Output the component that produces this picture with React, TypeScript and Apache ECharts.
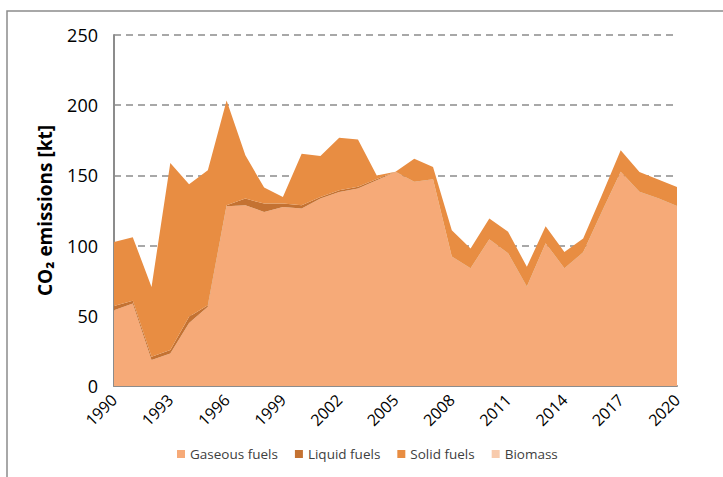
import React, { useEffect, useRef } from "react";
import * as echarts from "echarts";

const years = [
  "1990","1991","1992","1993","1994","1995","1996","1997","1998","1999",
  "2000","2001","2002","2003","2004","2005","2006","2007","2008","2009",
  "2010","2011","2012","2013","2014","2015","2016","2017","2018","2019","2020",
];
const gaseous = [
  54, 58.8, 18.5, 23.2, 44.8, 56.4, 128, 128.7, 124, 127.5,
  126.4, 133.5, 138.2, 140.6, 146.5, 152.4, 145.3, 147, 92, 83.7,
  104.3, 94.4, 70.6, 101.5, 83.7, 95, 124, 152.4, 138.2, 133.5, 128,
];
const liquid = [
  3, 1.9, 2.4, 2.4, 4.5, 1.2, 0.7, 4.8, 5.9, 2.4,
  2.3, 1.1, 1.2, 1.4, 1, 0.2, 0.2, 0.2, 0.2, 0.2,
  0.2, 0.2, 0.2, 0.2, 0.2, 0.2, 0.2, 0.2, 0.2, 0.2, 0.2,
];
const solid = [
  45.6, 45.3, 49.7, 133.2, 94.4, 96, 74.7, 30.8, 11.4, 4.7,
  36.8, 29.2, 37.5, 33.5, 2.5, 0, 16.4, 8.8, 18.8, 14.1,
  14.8, 15.2, 14.1, 12.1, 11.6, 9.8, 11.8, 15.3, 14.1, 13.3, 13.6,
];
const biomass = [
  0, 0, 0, 0, 0, 0, 0, 0, 0, 0,
  0, 0, 0, 0, 0, 0, 0, 0, 0, 0,
  0, 0, 0, 0, 0, 0, 0, 0, 0, 0, 0,
];
const seriesNames = ["Gaseous fuels", "Liquid fuels", "Solid fuels", "Biomass"];
const seriesColors = ["#F6AA78", "#C47232", "#E88D42", "#F8CBAD"];

const FONT = "'Open Sans', 'Noto Sans', sans-serif";

export default function App() {
  const ref = useRef<HTMLDivElement>(null);
  useEffect(() => {
    document.body.style.margin = "0";
    if (!ref.current) return;
    const chart = echarts.init(ref.current, null, { renderer: "svg" });
    const dataSets = [gaseous, liquid, solid, biomass];
    chart.setOption({
      animation: false,
      backgroundColor: "#ffffff",
      graphic: [
        {
          type: "rect",
          shape: { x: 7, y: 11, width: 800, height: 600 },
          style: { fill: "none", stroke: "#8c8c8c", lineWidth: 1.5 },
          z: 0,
        },
      ],
      grid: { left: 114, right: 46, top: 35, bottom: 91 },
      legend: {
        bottom: 11,
        left: 172,
        itemWidth: 8,
        itemHeight: 8,
        itemGap: 17,
        icon: "rect",
        textStyle: { fontFamily: FONT, fontSize: 13.5, color: "#404040" },
        data: seriesNames,
      },
      xAxis: {
        type: "category",
        data: years,
        boundaryGap: false,
        axisLine: { lineStyle: { color: "#8c8c8c", width: 2 } },
        axisTick: { show: false },
        axisLabel: {
          interval: 2,
          rotate: 45,
          fontFamily: FONT,
          fontSize: 16,
          color: "#000",
          margin: 11,
        },
        splitLine: { show: false },
      },
      yAxis: {
        type: "value",
        min: 0,
        max: 250,
        interval: 50,
        name: "CO₂ emissions [kt]",
        nameLocation: "middle",
        nameRotate: 90,
        nameGap: 60,
        nameTextStyle: {
          fontFamily: FONT,
          fontSize: 19,
          fontWeight: "bold",
          color: "#000",
        },
        axisLine: { show: true, lineStyle: { color: "#8c8c8c", width: 2 } },
        axisTick: { show: false },
        axisLabel: {
          fontFamily: FONT,
          fontSize: 18,
          color: "#000",
          margin: 16,
        },
        splitLine: {
          lineStyle: { color: "#8c8c8c", width: 1.5, type: [7, 5] },
        },
      },
      series: seriesNames.map((name, i) => ({
        name,
        type: "line",
        stack: "total",
        data: dataSets[i],
        symbol: "none",
        lineStyle: { width: 0 },
        itemStyle: { color: seriesColors[i] },
        areaStyle: { color: seriesColors[i], opacity: 1 },
        z: 2,
      })),
    });
    return () => chart.dispose();
  }, []);
  return <div ref={ref} style={{ width: 723, height: 477 }} />;
}
